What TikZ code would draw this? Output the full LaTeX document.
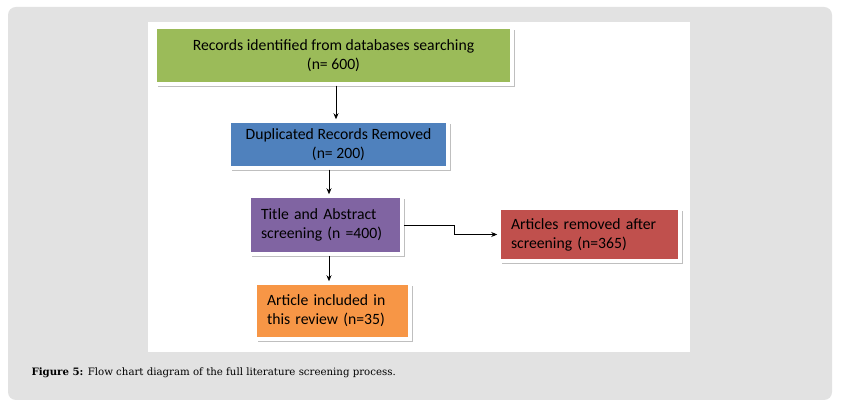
\documentclass[tikz,border=0pt]{standalone}
\usepackage{fontspec}
\setmainfont{Carlito}
\newfontfamily\capfont{DejaVu Serif}
\usetikzlibrary{shadows,arrows.meta}
\definecolor{panelgray}{HTML}{E2E2E2}
\definecolor{recgreen}{HTML}{9BBB59}
\definecolor{dupblue}{HTML}{4F81BD}
\definecolor{scrpurple}{HTML}{8064A2}
\definecolor{remred}{HTML}{C0504D}
\definecolor{incorange}{HTML}{F79646}
\tikzset{
  box/.style={draw=white, line width=3.5pt, inner xsep=12pt, inner ysep=2pt,
    font=\fontsize{15.7}{19}\selectfont,
    drop shadow={shadow xshift=3pt, shadow yshift=-3pt, fill=black!55, opacity=0.45}},
  arr/.style={-{Stealth[length=6pt,width=5pt]}, line width=0.8pt}
}
\begin{document}
\begin{tikzpicture}[x=1pt, y=-1pt]
% background
  \useasboundingbox (0,0) rectangle (846,411);
  \fill [white] (0,0) rectangle (846,411);
  \fill [panelgray, rounded corners=8pt] (8,7) rectangle (832,400);
  \fill [white] (148,22) rectangle (690,352);

% boxes
  \node (records) at (333.5,55.5) [box, fill=recgreen, minimum width=357pt, minimum height=57pt, align=center]
    {Records identified from databases searching\\(n= 600)};
  \node (duplicates) at (338.5,144.5) [box, fill=dupblue, minimum width=219pt, minimum height=47pt, align=center]
    {Duplicated Records Removed\\(n= 200)};
  \node (screening) at (325.5,225) [box, fill=scrpurple, text width=129pt, minimum height=58pt, align=left]
    {Title and Abstract\\screening (n =400)};
  \node (removed) at (589.5,234.5) [box, fill=remred, text width=157pt, minimum height=53pt, align=left]
    {Articles removed after\\screening (n=365)};
  \node (included) at (332.5,311) [box, fill=incorange, text width=131pt, minimum height=56pt, align=left]
    {Article included in\\this review (n=35)};

% arrows
  \draw [arr] ([xshift=2.5pt]records.south) -- ([xshift=2.5pt]records.south |- duplicates.north);
  \draw [arr] ([xshift=3.5pt]screening.north |- duplicates.south) -- ([xshift=3.5pt]screening.north);
  \draw [arr] ([xshift=3.5pt]screening.south) -- ([xshift=3.5pt]screening.south |- included.north);
  \draw [arr] (screening.east) -- ++(51,0) |- (removed.west);

% caption
  \node (caption) at (28,373) [anchor=west, font=\capfont\fontsize{10.2}{13}\selectfont]
    {\textbf{Figure 5:} Flow chart diagram of the full literature screening process.};
\end{tikzpicture}
\end{document}
